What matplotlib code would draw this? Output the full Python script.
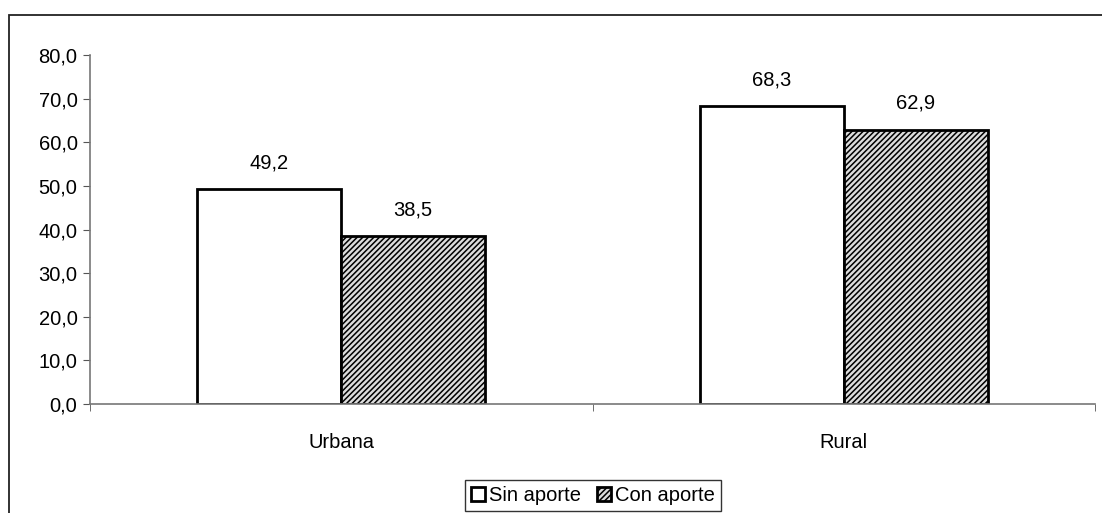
import matplotlib
matplotlib.use("Agg")
import matplotlib.pyplot as plt
import numpy as np
from matplotlib.patches import Rectangle

plt.rcParams['font.family'] = ['Liberation Sans', 'DejaVu Sans']
plt.rcParams['hatch.linewidth'] = 1.1

categories = ['Urbana', 'Rural']
sin_aporte = [49.2, 68.3]
con_aporte = [38.5, 62.9]
series_names = ['Sin aporte', 'Con aporte']
yticks = [0, 10, 20, 30, 40, 50, 60, 70, 80]

fig = plt.figure(figsize=(11.02, 5.13), dpi=100)
ax = fig.add_axes([90/1102, 1 - 404/513, (1095 - 90)/1102, (404 - 55)/513])

# outer chart border
fig.patches.append(Rectangle((9/1102, -0.1), 1.2, 1.1 - 15/513,
                             transform=fig.transFigure, fill=False,
                             edgecolor='#222222', linewidth=1.3))

fs = 14.5
x = np.arange(len(categories))
w = 0.2866
b1 = ax.bar(x - w/2, sin_aporte, w, facecolor='white', edgecolor='black',
            linewidth=2, label=series_names[0])
b2 = ax.bar(x + w/2, con_aporte, w, facecolor='#dcdcdc', edgecolor='black',
            linewidth=2, hatch='//////', label=series_names[1])

for bars, vals in [(b1, sin_aporte), (b2, con_aporte)]:
    for r, v in zip(bars, vals):
        ax.annotate(f"{v:.1f}".replace('.', ','),
                    (r.get_x() + r.get_width()/2, v), xytext=(0, 12),
                    textcoords='offset points', ha='center', va='bottom',
                    fontsize=fs)

ax.set_xlim(-0.5, 1.5)
ax.set_ylim(0, 80)
ax.set_yticks(yticks)
ax.set_yticklabels([f"{t:.1f}".replace('.', ',') for t in yticks], fontsize=fs)
ax.set_xticks(x)
ax.set_xticklabels(categories, fontsize=fs)
ax.set_xticks([-0.5, 0.5, 1.5], minor=True)
ax.tick_params(axis='x', which='major', length=0, pad=21)
ax.tick_params(axis='x', which='minor', length=5, direction='out', color='#555555')
ax.tick_params(axis='y', length=5, direction='out', color='#555555', pad=4)

for s in ['top', 'right']:
    ax.spines[s].set_visible(False)
for s in ['left', 'bottom']:
    ax.spines[s].set_color('#777777')
    ax.spines[s].set_linewidth(1.2)

leg = ax.legend(loc='center', bbox_to_anchor=(593/1102, 1 - 495.5/513),
                bbox_transform=fig.transFigure, ncol=2, fontsize=fs,
                frameon=True, fancybox=False, handlelength=0.7,
                handleheight=0.7, handletextpad=0.2, columnspacing=0.8,
                borderpad=0.3, borderaxespad=0)
leg.get_frame().set_edgecolor('black')
leg.get_frame().set_linewidth(1.0)

fig.savefig('out.png', dpi=100)
